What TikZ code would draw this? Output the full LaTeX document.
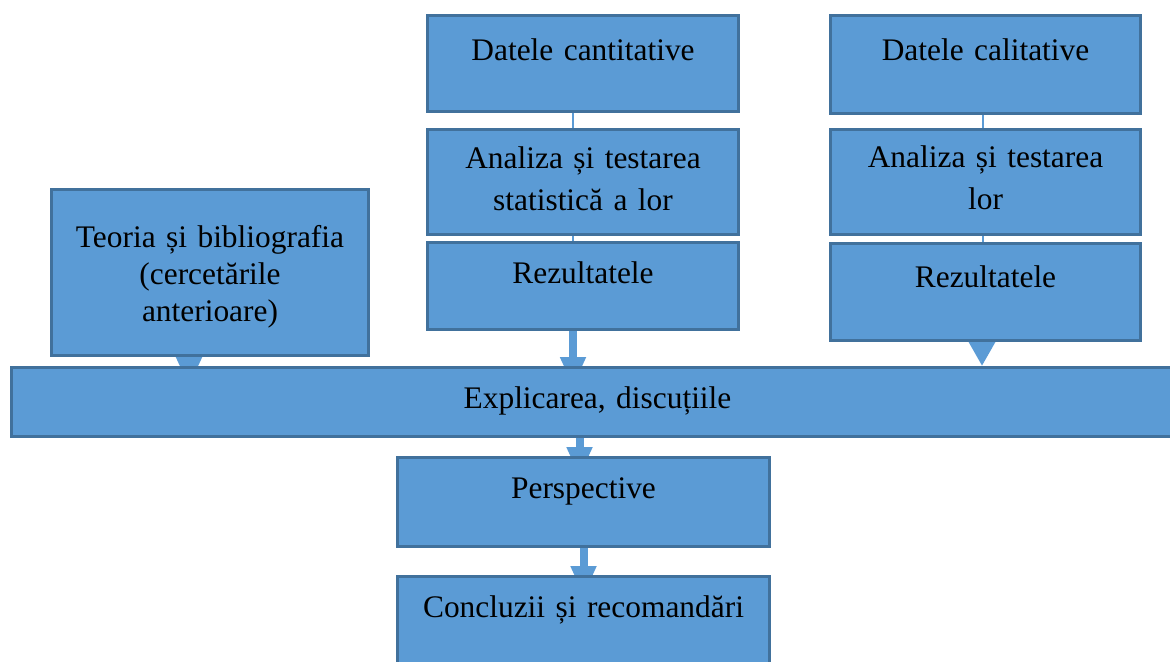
\documentclass[tikz,border=0pt]{standalone}
\usepackage{fontspec}
\setmainfont{Liberation Serif}
\usepackage{xcolor}
\usetikzlibrary{arrows.meta,positioning,backgrounds}
\definecolor{boxblue}{RGB}{91,155,213}
\definecolor{boxedge}{RGB}{65,113,156}

\begin{document}
\begin{tikzpicture}[x=0.5pt, y=-0.5pt, node distance=5pt]
\tikzset{
  blk/.style={draw=boxedge, fill=boxblue, line width=1.5pt, inner sep=0pt,
    text width=#1, align=center, font=\fontsize{15.7}{21}\selectfont},
  link/.style={draw=boxblue, line width=1pt},
  fat/.style={draw=boxblue, line width=4pt, -{Triangle[width=12pt,length=15pt]}, shorten >=-10.5pt}
}
\useasboundingbox (0,0) rectangle (1170,662);
\clip (0,0) rectangle (1170,662);

\node[blk=155.5pt, anchor=north west, text height=22.5pt, text depth=25.5pt] (dcant) at (426,14) {Datele cantitative};
\node[blk=155.5pt, below=7.5pt of dcant, text height=19.5pt, text depth=33pt] (acant) {Analiza și testarea\\statistică a lor};
\node[blk=155.5pt, below=2.5pt of acant, text height=20.5pt, text depth=23pt] (rcant) {Rezultatele};

\node[blk=155pt, anchor=north west, text height=22.5pt, text depth=26.5pt] (dcal) at (829,14) {Datele calitative};
\node[blk=155pt, below=6.5pt of dcal, text height=19pt, text depth=33.5pt] (acal) {Analiza și testarea\\lor};
\node[blk=155pt, below=3pt of acal, text height=22pt, text depth=26.5pt] (rcal) {Rezultatele};

\node[blk=158.5pt, anchor=north west, text height=29pt, text depth=54pt,
  font=\fontsize{15.7}{18.5}\selectfont] (teoria) at (50,188) {Teoria și bibliografia\\(cercetările\\anterioare)};

\node[blk=586pt, anchor=north west, text height=20.5pt, text depth=14pt] (expl) at (10,366) {Explicarea, discuțiile};

\node[blk=186pt, anchor=north west, text height=20.5pt, text depth=24pt] (persp) at (396,456) {Perspective};
\node[blk=186pt, below=13.5pt of persp, text height=20.5pt, text depth=31.5pt] (concl) {Concluzii și recomandări};

\begin{scope}[on background layer]
\draw[link] ([xshift=-5pt]dcant.south) -- ([xshift=-5pt]acant.north);
\draw[link] ([xshift=-5pt]acant.south) -- ([xshift=-5pt]rcant.north);
\draw[link] ([xshift=-1.5pt]dcal.south) -- ([xshift=-1.5pt]acal.north);
\draw[link] ([xshift=-1.5pt]acal.south) -- ([xshift=-1.5pt]rcal.north);
\draw[fat] ([xshift=-5pt]rcant.south) -- ([xshift=-5pt]rcant.south |- expl.north);
\draw[fat] ([xshift=-10.5pt]teoria.south) -- ([xshift=-10.5pt]teoria.south |- expl.north);
\draw[fat, -{Triangle[width=12.5pt,length=12pt]}, shorten >=0pt] ([xshift=-1.75pt]rcal.south) -- ([xshift=-1.75pt]rcal.south |- expl.north);
\draw[fat] ([xshift=-9pt]expl.south) -- ([xshift=-9pt]expl.south |- persp.north);
\draw[fat] (persp.south) -- (concl.north);
\end{scope}
\end{tikzpicture}
\end{document}
